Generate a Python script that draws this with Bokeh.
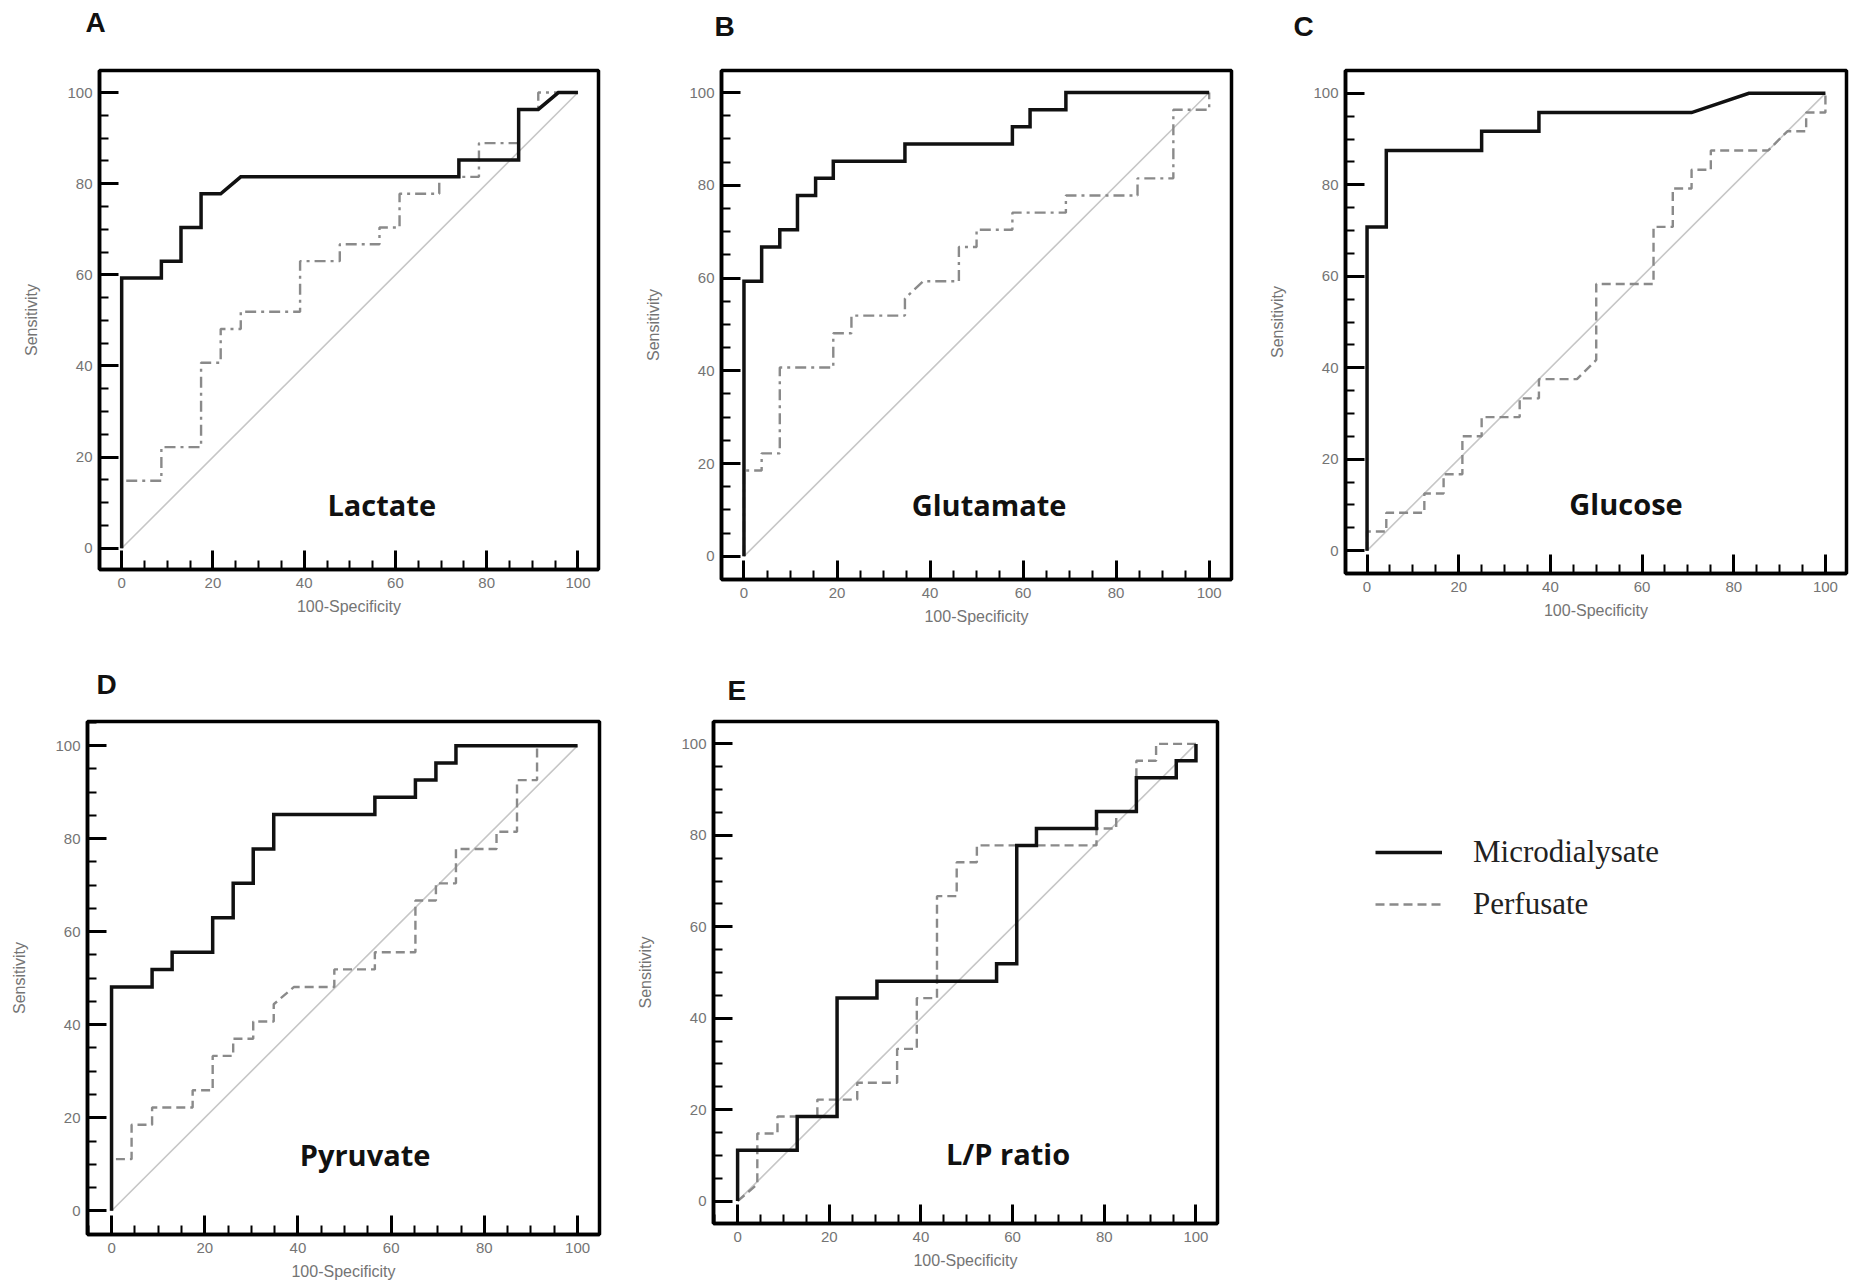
from bokeh.plotting import figure
from bokeh.layouts import row, column
from bokeh.models import Label, Legend, LegendItem, SingleIntervalTicker, Range1d, Title
from bokeh.embed import file_html
from bokeh.resources import INLINE

# ---------------- data ----------------
panel_letters = ["A", "B", "C", "D", "E"]
analytes = ["Lactate", "Glutamate", "Glucose", "Pyruvate", "L/P ratio"]
series_names = ["Microdialysate", "Perfusate"]
x_axis_title = "100-Specificity"
y_axis_title = "Sensitivity"
diag_x = [0, 100]
diag_y = [0, 100]

lactate_md_x = [0, 0, 8.7, 8.7, 13.0, 13.0, 17.4, 17.4, 21.7, 26.1, 73.9, 73.9, 87.0, 87.0, 91.3, 95.7, 100]
lactate_md_y = [0, 59.3, 59.3, 63.0, 63.0, 70.4, 70.4, 77.8, 77.8, 81.5, 81.5, 85.2, 85.2, 96.3, 96.3, 100, 100]
lactate_pf_x = [0, 0, 8.7, 8.7, 17.4, 17.4, 21.7, 21.7, 26.1, 26.1, 39.1, 39.1, 47.8, 47.8, 56.5, 56.5,
                60.9, 60.9, 69.6, 69.6, 78.3, 78.3, 87.0, 87.0, 91.3, 91.3, 100]
lactate_pf_y = [0, 14.8, 14.8, 22.2, 22.2, 40.7, 40.7, 48.1, 48.1, 51.9, 51.9, 63.0, 63.0, 66.7, 66.7, 70.4,
                70.4, 77.8, 77.8, 81.5, 81.5, 88.9, 88.9, 96.3, 96.3, 100, 100]

glutamate_md_x = [0, 0, 3.8, 3.8, 7.7, 7.7, 11.5, 11.5, 15.4, 15.4, 19.2, 19.2, 34.6, 34.6, 57.7, 57.7,
                  61.5, 61.5, 69.2, 69.2, 100]
glutamate_md_y = [0, 59.3, 59.3, 66.7, 66.7, 70.4, 70.4, 77.8, 77.8, 81.5, 81.5, 85.2, 85.2, 88.9, 88.9, 92.6,
                  92.6, 96.3, 96.3, 100, 100]
glutamate_pf_x = [0, 0, 3.8, 3.8, 7.7, 7.7, 19.2, 19.2, 23.1, 23.1, 34.6, 34.6, 38.5, 46.2, 46.2, 50.0,
                  50.0, 57.7, 57.7, 69.2, 69.2, 84.6, 84.6, 92.3, 92.3, 100, 100]
glutamate_pf_y = [0, 18.5, 18.5, 22.2, 22.2, 40.7, 40.7, 48.1, 48.1, 51.9, 51.9, 55.6, 59.3, 59.3, 66.7, 66.7,
                  70.4, 70.4, 74.1, 74.1, 77.8, 77.8, 81.5, 81.5, 96.3, 96.3, 100]

glucose_md_x = [0, 0, 4.2, 4.2, 25.0, 25.0, 37.5, 37.5, 70.8, 83.3, 100]
glucose_md_y = [0, 70.8, 70.8, 87.5, 87.5, 91.7, 91.7, 95.8, 95.8, 100, 100]
glucose_pf_x = [0, 0, 4.2, 4.2, 12.5, 12.5, 16.7, 16.7, 20.8, 20.8, 25.0, 25.0, 33.3, 33.3, 37.5, 37.5,
                45.8, 50.0, 50.0, 62.5, 62.5, 66.7, 66.7, 70.8, 70.8, 75.0, 75.0, 87.5, 91.7, 95.8, 95.8, 100, 100]
glucose_pf_y = [0, 4.2, 4.2, 8.3, 8.3, 12.5, 12.5, 16.7, 16.7, 25.0, 25.0, 29.2, 29.2, 33.3, 33.3, 37.5,
                37.5, 41.7, 58.3, 58.3, 70.8, 70.8, 79.2, 79.2, 83.3, 83.3, 87.5, 87.5, 91.7, 91.7, 95.8, 95.8, 100]

pyruvate_md_x = [0, 0, 8.7, 8.7, 13.0, 13.0, 21.7, 21.7, 26.1, 26.1, 30.4, 30.4, 34.8, 34.8, 56.5, 56.5,
                 65.2, 65.2, 69.6, 69.6, 73.9, 73.9, 100]
pyruvate_md_y = [0, 48.1, 48.1, 51.9, 51.9, 55.6, 55.6, 63.0, 63.0, 70.4, 70.4, 77.8, 77.8, 85.2, 85.2, 88.9,
                 88.9, 92.6, 92.6, 96.3, 96.3, 100, 100]
pyruvate_pf_x = [0, 0, 4.3, 4.3, 8.7, 8.7, 17.4, 17.4, 21.7, 21.7, 26.1, 26.1, 30.4, 30.4, 34.8, 34.8,
                 39.1, 47.8, 47.8, 56.5, 56.5, 65.2, 65.2, 69.6, 69.6, 73.9, 73.9, 82.6, 82.6, 87.0, 87.0,
                 91.3, 91.3, 100]
pyruvate_pf_y = [0, 11.1, 11.1, 18.5, 18.5, 22.2, 22.2, 25.9, 25.9, 33.3, 33.3, 37.0, 37.0, 40.7, 40.7, 44.4,
                 48.1, 48.1, 51.9, 51.9, 55.6, 55.6, 66.7, 66.7, 70.4, 70.4, 77.8, 77.8, 81.5, 81.5, 92.6,
                 92.6, 100, 100]

lpratio_md_x = [0, 0, 13.0, 13.0, 21.7, 21.7, 30.4, 30.4, 56.5, 56.5, 60.9, 60.9, 65.2, 65.2, 78.3, 78.3,
                87.0, 87.0, 95.7, 95.7, 100, 100]
lpratio_md_y = [0, 11.1, 11.1, 18.5, 18.5, 44.4, 44.4, 48.1, 48.1, 51.9, 51.9, 77.8, 77.8, 81.5, 81.5, 85.2,
                85.2, 92.6, 92.6, 96.3, 96.3, 100]
lpratio_pf_x = [0, 4.3, 4.3, 8.7, 8.7, 17.4, 17.4, 26.1, 26.1, 34.8, 34.8, 39.1, 39.1, 43.5, 43.5, 47.8,
                47.8, 52.2, 52.2, 78.3, 78.3, 82.6, 82.6, 87.0, 87.0, 91.3, 91.3, 100]
lpratio_pf_y = [0, 3.7, 14.8, 14.8, 18.5, 18.5, 22.2, 22.2, 25.9, 25.9, 33.3, 33.3, 44.4, 44.4, 66.7, 66.7,
                74.1, 74.1, 77.8, 77.8, 81.5, 81.5, 85.2, 85.2, 96.3, 96.3, 100, 100]

# ---------------- styling / layout ----------------
MD_COLOR = "#111111"
PF_COLOR = "#8a8a8a"
DIAG_COLOR = "#c6c6c6"
TICK_COLOR = "#747474"
MD_WIDTH = 3.5
PF_WIDTH = 2.4
DASHDOT = "11 5 3 5"
DASHED = "9 5"


def make_panel(letter, name, md_x, md_y, pf_x, pf_y, pf_dash,
               fw, fh, bl, br, bt, bb, xr, yr, letter_offset, letter_gap, name_pos):
    p = figure(width=bl + fw + br, height=bt + fh + bb,
               frame_width=fw, frame_height=fh,
               min_border_left=bl, min_border_right=br,
               min_border_top=bt, min_border_bottom=bb,
               x_range=Range1d(*xr), y_range=Range1d(*yr),
               output_backend="svg", toolbar_location=None,
               background_fill_color="white", border_fill_color="white")
    p.grid.visible = False
    p.outline_line_color = "black"
    p.outline_line_width = 3.5
    p.outline_line_alpha = 1.0

    for ax in (p.xaxis[0], p.yaxis[0]):
        ax.ticker = SingleIntervalTicker(interval=20, num_minor_ticks=4)
        ax.axis_line_color = "black"
        ax.axis_line_width = 3.5
        ax.major_tick_in = 19
        ax.major_tick_out = 0
        ax.major_tick_line_width = 3
        ax.major_tick_line_color = "black"
        ax.minor_tick_in = 9
        ax.minor_tick_out = 0
        ax.minor_tick_line_width = 2
        ax.minor_tick_line_color = "black"
        ax.major_label_text_font = "Liberation Sans"
        ax.major_label_text_font_size = "15px"
        ax.major_label_text_color = TICK_COLOR
        ax.axis_label_text_font = "Liberation Sans"
        ax.axis_label_text_font_size = "16px"
        ax.axis_label_text_font_style = "normal"
        ax.axis_label_text_color = TICK_COLOR
    p.xaxis[0].axis_label = x_axis_title
    p.yaxis[0].axis_label = y_axis_title
    p.xaxis[0].major_label_standoff = 8
    p.xaxis[0].axis_label_standoff = 7
    p.yaxis[0].major_label_standoff = 7
    p.yaxis[0].axis_label_standoff = 24

    p.line(diag_x, diag_y, line_color=DIAG_COLOR, line_width=1.6)
    p.line(pf_x, pf_y, line_color=PF_COLOR, line_width=PF_WIDTH, line_dash=pf_dash)
    p.line(md_x, md_y, line_color=MD_COLOR, line_width=MD_WIDTH, line_join="miter")

    # spacer title (blank) next to the frame, then the panel letter above it
    p.add_layout(Title(text=" ", text_font_size="1px", standoff=max(letter_gap - 3, 0)), "above")
    p.add_layout(Title(text=letter, align="left", offset=letter_offset, standoff=0,
                       text_font="Liberation Sans", text_font_size="28px", text_font_style="bold",
                       text_color="#111111"), "above")
    p.add_layout(Label(x=name_pos[0], y=name_pos[1], text=name, text_font="Open Sans",
                       text_font_size="29px", text_font_style="bold", text_color="#111111",
                       text_align="center", text_baseline="middle"))
    return p


pA = make_panel(panel_letters[0], analytes[0], lactate_md_x, lactate_md_y, lactate_pf_x, lactate_pf_y,
                DASHDOT, 499, 499, 99, 24, 69, 82, (-4.86, 104.5), (-4.66, 104.84), -14, 33, (57, 9.5))
pB = make_panel(panel_letters[1], analytes[1], glutamate_md_x, glutamate_md_y, glutamate_pf_x,
                glutamate_pf_y, DASHDOT, 510, 509, 99, 15, 69, 72, (-4.83, 104.8), (-5.0, 104.75),
                -7, 29, (52.7, 11.1))
pC = make_panel(panel_letters[2], analytes[2], glucose_md_x, glucose_md_y, glucose_pf_x, glucose_pf_y,
                DASHED, 501, 503, 99, 18, 70, 77, (-4.7, 104.6), (-5.0, 105.0), -52, 29, (56.5, 10.3))
pD = make_panel(panel_letters[3], analytes[3], pyruvate_md_x, pyruvate_md_y, pyruvate_pf_x, pyruvate_pf_y,
                DASHED, 512, 513, 87, 15, 70, 55, (-5.16, 104.7), (-5.1, 105.2), 9, 22, (54.4, 12.1))
pE = make_panel(panel_letters[4], analytes[4], lpratio_md_x, lpratio_md_y, lpratio_pf_x, lpratio_pf_y,
                DASHED, 504, 502, 99, 20, 71, 65, (-5.26, 104.7), (-4.9, 104.9), 14, 16, (59.0, 10.5))

# legend panel: its own figure; sample renderers lie outside its (invisible) ranges
pL = figure(width=627, height=638, frame_width=627, frame_height=638,
            min_border_left=0, min_border_right=0, min_border_top=0, min_border_bottom=0,
            x_range=Range1d(-300, -200), y_range=Range1d(-300, -200),
            output_backend="svg", toolbar_location=None, outline_line_color=None)
pL.axis.visible = False
pL.grid.visible = False
leg_md = pL.line(lpratio_md_x, lpratio_md_y, line_color=MD_COLOR, line_width=MD_WIDTH)
leg_pf = pL.line(lpratio_pf_x, lpratio_pf_y, line_color=PF_COLOR, line_width=PF_WIDTH, line_dash=DASHED)
legend = Legend(items=[LegendItem(label=series_names[0], renderers=[leg_md]),
                       LegendItem(label=series_names[1], renderers=[leg_pf])],
                location=(138, 366), orientation="vertical",
                label_text_font="Liberation Serif", label_text_font_size="31px",
                label_text_color="#222222", label_standoff=31,
                glyph_width=67, glyph_height=30, label_height=30, spacing=16,
                padding=0, margin=0, border_line_alpha=0, background_fill_alpha=0)
pL.add_layout(legend)

layout = column(row(pA, pB, pC, spacing=0), row(pD, pE, pL, spacing=0), spacing=0)

open("out.html", "w").write(file_html(layout, INLINE))
